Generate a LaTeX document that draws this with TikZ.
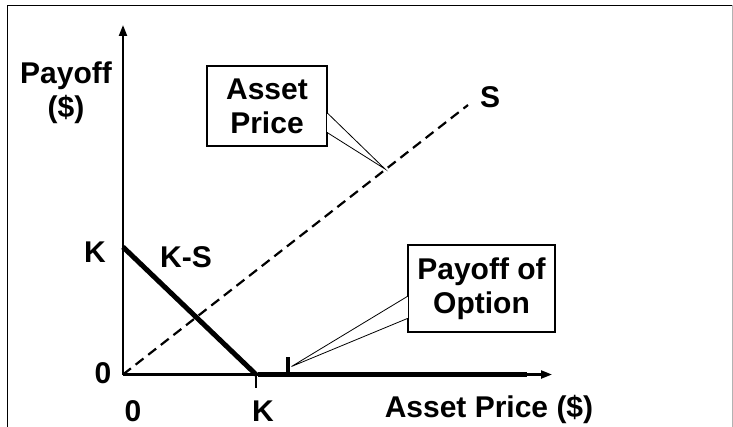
\documentclass[tikz,border=0pt]{standalone}
\usepackage{fontspec}
\setmainfont{Liberation Sans}
\usetikzlibrary{arrows.meta,calc}

\tikzset{
  lbl/.style={font=\bfseries\fontsize{30}{34}\selectfont, inner sep=0pt},
  callbox/.style={lbl, draw, line width=1.3pt, fill=white, align=center,
    minimum width=120pt, minimum height=80pt},
  axis/.style={line width=2.2pt, -{Triangle[length=11pt,width=8pt]}},
  payoffline/.style={line width=5pt},
}

\begin{document}
\begin{tikzpicture}[x=1pt,y=-1pt]
  \useasboundingbox (0,0) rectangle (733,427);
  % frame
  \draw[line width=1.5pt] (7.5,427) -- (7.5,5.5) -- (733,5.5);
  \draw[gray!60, line width=0.8pt] (732.5,5.5) -- (732.5,427);

  % axes
  \coordinate (O) at (123,374.5);
  \coordinate (xend) at (552,374.5);
  \coordinate (yend) at (123,25);
  \coordinate (Ky) at (123,247);
  \coordinate (Kx) at (256,374.5);
  \coordinate (Kxlow) at (256,388);
  \coordinate (xstop) at (527,374.5);
  \coordinate (Send) at (468,105);
  \draw[axis] (O) -- (xend);
  \draw[axis] (O) -- (yend);
  \draw[line width=1.2pt] (Kx) -- (Kxlow);

  % asset price line
  \draw[line width=2.2pt, dash pattern=on 10pt off 6pt] (O) -- (Send);

  % payoff of the put
  \draw[payoffline] (Ky) -- (Kx);
  \draw[payoffline] ([xshift=2pt]Kx) -- (xstop);
  \coordinate (optbar) at (288,357);
  \draw[line width=4pt] (optbar) -- (optbar |- Kx);

  % labels
  \node[lbl, align=center] (ylabel) at (66,93) {Payoff\\(\$)};
  \node[lbl] (klabel) at (95,252) {K};
  \node[lbl] (kslabel) at (186,257) {K-S};
  \node[lbl] (zerol) at (103,373) {0};
  \node[lbl] (zerob) at (133,411) {0};
  \node[lbl] (kb) at (263,411) {K};
  \node[lbl] (xlabel) at (489,409) {Asset Price (\$)};
  \node[lbl] (slabel) at (490,97) {S};

  % callouts
  \node[callbox] (assetbox) at (267,106) {Asset\\Price};
  \coordinate (assettip) at (385,169);
  \draw[white, line width=2pt]
    ($(assetbox.north east)!0.6!(assetbox.south east)$) --
    ($(assetbox.north east)!0.82!(assetbox.south east)$);
  \draw[line width=0.8pt]
    ($(assetbox.north east)!0.59!(assetbox.south east)$) -- (assettip) --
    ($(assetbox.north east)!0.83!(assetbox.south east)$);

  \node[callbox, minimum width=147pt, minimum height=87pt] (optbox)
    at (481.5,288.5) {Payoff of\\Option};
  \coordinate (opttip) at (291.5,366.5);
  \draw[white, line width=2pt]
    ($(optbox.north west)!0.6!(optbox.south west)$) --
    ($(optbox.north west)!0.83!(optbox.south west)$);
  \draw[line width=0.8pt]
    ($(optbox.north west)!0.59!(optbox.south west)$) -- (opttip) --
    ($(optbox.north west)!0.84!(optbox.south west)$);
\end{tikzpicture}
\end{document}
